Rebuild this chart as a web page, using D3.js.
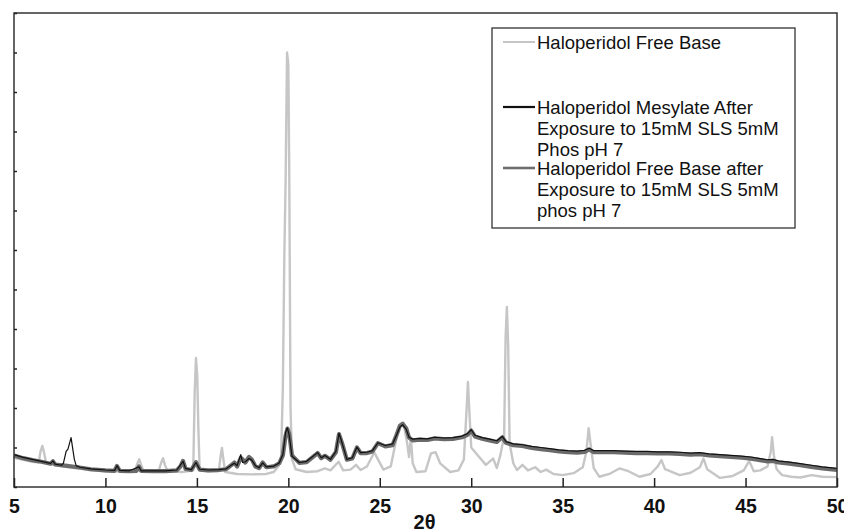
<!DOCTYPE html>
<html>
<head>
<meta charset="utf-8">
<script src="https://cdn.jsdelivr.net/npm/d3@7/dist/d3.min.js"></script>
<style>
  html, body { margin: 0; padding: 0; background: #fff; }
  svg { display: block; font-family: 'Liberation Sans', Arial, sans-serif; }
</style>
</head>
<body>
<svg id="chart" width="844" height="530"></svg>
<script>
// ---- data: [2theta, counts] ----
const freeBase = [
  [5.0, 740], [5.5, 690], [6.0, 640], [6.35, 620], [6.45, 900], [6.55, 1040], [6.65, 860], [6.75, 610],
  [7.2, 560], [7.8, 510], [8.5, 470], [9.2, 420], [10.0, 400], [10.8, 390], [11.6, 400], [11.75, 600],
  [11.85, 700], [11.95, 560], [12.1, 390], [12.9, 390], [13.05, 620], [13.15, 730], [13.25, 560], [13.4, 400],
  [14.2, 380], [14.8, 420], [14.88, 2400], [14.95, 3270], [15.02, 2800], [15.08, 1500], [15.15, 450],
  [15.6, 400], [16.2, 400], [16.3, 800], [16.37, 990], [16.45, 700], [16.55, 380], [17.2, 330], [18.0, 320],
  [18.8, 330], [19.2, 380], [19.45, 520], [19.6, 700], [19.7, 2500], [19.78, 5800], [19.85, 7700],
  [19.93, 11000], [20.0, 10700], [20.05, 8000], [20.12, 2000], [20.2, 700], [20.4, 450], [21.0, 380],
  [21.6, 400], [22.0, 470], [22.3, 420], [22.75, 640], [23.0, 420], [23.4, 440], [23.7, 560], [23.95, 430],
  [24.3, 520], [24.7, 880], [24.9, 700], [25.2, 440], [25.6, 520], [25.9, 1200], [26.1, 1550], [26.3, 1620],
  [26.5, 1100], [26.6, 760], [26.7, 1250], [26.8, 600], [27.0, 380], [27.5, 400], [27.8, 850], [28.05, 880],
  [28.3, 600], [28.85, 380], [29.3, 420], [29.6, 700], [29.75, 2000], [29.82, 2660], [29.9, 1900],
  [30.0, 1000], [30.4, 780], [30.8, 560], [31.2, 720], [31.4, 480], [31.6, 820], [31.8, 1300], [31.88, 3800],
  [31.95, 4560], [32.02, 3600], [32.1, 1100], [32.3, 600], [32.5, 430], [32.8, 560], [33.1, 420], [33.5, 500],
  [33.8, 380], [34.1, 440], [34.5, 330], [35.0, 300], [35.6, 350], [36.1, 500], [36.3, 900], [36.42, 1490],
  [36.55, 1000], [36.7, 480], [37.0, 260], [37.6, 340], [38.1, 470], [38.6, 400], [39.2, 260], [39.8, 330],
  [40.2, 520], [40.4, 680], [40.6, 450], [41.4, 300], [42.0, 360], [42.5, 500], [42.7, 720], [42.9, 450],
  [43.6, 230], [44.3, 280], [44.9, 420], [45.2, 660], [45.45, 400], [45.8, 420], [46.2, 520], [46.38, 900],
  [46.45, 1260], [46.55, 800], [46.7, 450], [47.0, 300], [47.5, 260], [48.0, 240], [48.6, 300], [49.2, 260],
  [50.0, 250]
];

const mesylateExposed = [
  [5.0, 820], [5.5, 750], [6.0, 700], [6.5, 650], [7.0, 600], [7.13, 660], [7.25, 580], [7.6, 550],
  [7.7, 600], [7.85, 900], [7.95, 960], [8.12, 1250], [8.3, 700], [8.4, 540], [8.6, 500], [9.2, 460],
  [10.0, 430], [10.5, 420], [10.63, 540], [10.78, 420], [11.3, 410], [11.83, 510], [11.95, 410], [12.6, 410],
  [13.3, 410], [13.9, 430], [14.24, 650], [14.38, 470], [14.7, 440], [14.95, 620], [15.15, 450], [15.6, 430],
  [16.2, 440], [16.6, 460], [16.9, 560], [17.05, 600], [17.2, 540], [17.4, 820], [17.5, 620], [17.65, 640],
  [17.85, 720], [18.0, 680], [18.2, 540], [18.4, 490], [18.6, 610], [18.8, 510], [19.2, 530], [19.5, 610],
  [19.7, 820], [19.85, 1380], [19.95, 1500], [20.05, 1300], [20.2, 780], [20.6, 620], [21.0, 650],
  [21.6, 870], [21.8, 740], [22.0, 800], [22.3, 700], [22.6, 900], [22.77, 1360], [22.95, 1100], [23.2, 700],
  [23.5, 740], [23.75, 1010], [23.95, 870], [24.3, 880], [24.6, 920], [24.9, 1120], [25.3, 1050],
  [25.7, 1090], [25.9, 1300], [26.1, 1520], [26.25, 1580], [26.45, 1460], [26.6, 1260], [26.8, 1210],
  [27.2, 1230], [27.6, 1220], [28.0, 1260], [28.5, 1240], [29.0, 1250], [29.5, 1290], [29.8, 1350],
  [30.0, 1450], [30.2, 1310], [30.6, 1250], [31.0, 1210], [31.4, 1170], [31.7, 1280], [31.9, 1150],
  [32.3, 1090], [32.8, 1070], [33.3, 1030], [33.8, 1000], [34.3, 970], [34.8, 940], [35.3, 920], [35.8, 910],
  [36.2, 930], [36.45, 980], [36.7, 920], [37.2, 920], [37.8, 920], [38.4, 910], [39.0, 900], [39.6, 900],
  [40.2, 890], [40.8, 890], [41.4, 880], [42.0, 860], [42.5, 870], [43.0, 840], [43.6, 820], [44.2, 800],
  [44.8, 780], [45.3, 760], [45.8, 720], [46.2, 690], [46.5, 700], [46.8, 660], [47.4, 630], [48.0, 590],
  [48.6, 550], [49.2, 510], [50.0, 470]
];

const freeBaseExposed = [
  [5.0, 800], [5.5, 730], [6.0, 680], [6.5, 640], [7.0, 590], [7.13, 650], [7.25, 570], [7.8, 540],
  [8.5, 500], [9.2, 450], [10.0, 420], [10.5, 410], [10.63, 530], [10.78, 410], [11.3, 400], [11.7, 410],
  [11.83, 520], [11.95, 410], [12.6, 400], [13.3, 400], [13.9, 420], [14.1, 520], [14.24, 660], [14.38, 460],
  [14.7, 430], [14.95, 630], [15.15, 440], [15.6, 420], [16.2, 430], [16.6, 450], [16.9, 560], [17.05, 620],
  [17.2, 520], [17.4, 740], [17.5, 700], [17.65, 620], [17.85, 760], [18.0, 700], [18.2, 520], [18.4, 480],
  [18.6, 620], [18.8, 500], [19.2, 520], [19.5, 600], [19.7, 800], [19.85, 1300], [19.95, 1480],
  [20.05, 1350], [20.2, 800], [20.6, 610], [21.0, 630], [21.6, 860], [21.8, 730], [22.0, 790], [22.3, 690],
  [22.6, 880], [22.77, 1340], [22.95, 1090], [23.2, 690], [23.5, 720], [23.75, 1000], [23.95, 860],
  [24.3, 860], [24.6, 900], [24.9, 1110], [25.3, 1030], [25.7, 1060], [25.9, 1300], [26.1, 1550],
  [26.25, 1600], [26.45, 1480], [26.6, 1250], [26.8, 1180], [27.2, 1200], [27.6, 1190], [28.0, 1230],
  [28.5, 1210], [29.0, 1220], [29.5, 1260], [29.8, 1320], [30.0, 1430], [30.2, 1280], [30.6, 1220],
  [31.0, 1180], [31.4, 1140], [31.7, 1260], [31.9, 1120], [32.3, 1060], [32.8, 1040], [33.3, 990],
  [33.8, 960], [34.3, 930], [34.8, 900], [35.3, 880], [35.8, 870], [36.2, 890], [36.45, 950], [36.7, 880],
  [37.2, 880], [37.8, 880], [38.4, 870], [39.0, 860], [39.6, 860], [40.2, 850], [40.8, 850], [41.4, 840],
  [42.0, 820], [42.5, 830], [43.0, 800], [43.6, 780], [44.2, 760], [44.8, 740], [45.3, 720], [45.8, 680],
  [46.2, 650], [46.5, 660], [46.8, 620], [47.4, 590], [48.0, 550], [48.6, 510], [49.2, 470], [50.0, 430]
];

const xTicks = [5, 10, 15, 20, 25, 30, 35, 40, 45, 50];
const yTicks = d3.range(0, 12001, 1000);

const legendItems = [
  { lines: ['Haloperidol Free Base'], color: '#c6c6c6', width: 2 },
  { lines: ['Haloperidol Mesylate After', 'Exposure to 15mM SLS 5mM', 'Phos pH 7'], color: '#111', width: 2.2 },
  { lines: ['Haloperidol Free Base after', 'Exposure to 15mM SLS 5mM', 'phos pH 7'], color: '#6e6e6e', width: 2.6 }
];

// ---- layout ----
const L = 14, R = 837, T = 13, B = 487;
const svg = d3.select('#chart');

const x = d3.scaleLinear().domain([5, 50]).range([L, R]);
const y = d3.scaleLinear().domain([0, 12000]).range([B, T]);

const line = d3.line().x(d => x(d[0])).y(d => y(d[1]));

// traces
svg.append('path').datum(freeBase)
  .attr('fill', 'none').attr('stroke', '#c6c6c6').attr('stroke-width', 2.4)
  .attr('stroke-linejoin', 'round').attr('d', line);
svg.append('path').datum(freeBaseExposed)
  .attr('fill', 'none').attr('stroke', '#6a6a6a').attr('stroke-width', 4.2)
  .attr('stroke-linejoin', 'round').attr('d', line);
svg.append('path').datum(mesylateExposed)
  .attr('fill', 'none').attr('stroke', '#111').attr('stroke-width', 1.2)
  .attr('stroke-linejoin', 'round').attr('d', line);

// frame
svg.append('rect')
  .attr('x', L).attr('y', T).attr('width', R - L).attr('height', B - T)
  .attr('fill', 'none').attr('stroke', '#333').attr('stroke-width', 1.5);

// x axis (ticks pointing inward)
const xAxis = svg.append('g')
  .attr('transform', `translate(0,${B})`)
  .call(d3.axisBottom(x).tickValues(xTicks).tickSizeInner(-9).tickSizeOuter(0).tickPadding(12));
xAxis.select('.domain').remove();
xAxis.selectAll('line').attr('stroke', '#222').attr('stroke-width', 1.5);
xAxis.selectAll('text')
  .attr('fill', '#111').attr('font-size', '19.5px').attr('font-weight', 'bold')
  .attr('font-family', "'Liberation Sans', Arial, sans-serif");

// y axis: unlabeled inward ticks
const yAxis = svg.append('g')
  .attr('transform', `translate(${L},0)`)
  .call(d3.axisRight(y).tickValues(yTicks).tickSizeInner(3).tickSizeOuter(0).tickFormat(''));
yAxis.select('.domain').remove();
yAxis.selectAll('line').attr('stroke', '#222').attr('stroke-width', 1.5);

// axis title
svg.append('text')
  .attr('x', (L + R) / 2 - 1).attr('y', 529)
  .attr('text-anchor', 'middle')
  .attr('font-size', '20px').attr('font-weight', 'bold').attr('fill', '#111')
  .text('2θ');

// legend
const lg = svg.append('g');
lg.append('rect')
  .attr('x', 492).attr('y', 28).attr('width', 303).attr('height', 200)
  .attr('fill', '#fff').attr('stroke', '#333').attr('stroke-width', 1.3);

const rowTop = [42, 107, 168];
legendItems.forEach((item, i) => {
  const cy = rowTop[i];
  lg.append('line')
    .attr('x1', 503).attr('x2', 535).attr('y1', cy).attr('y2', cy)
    .attr('stroke', item.color).attr('stroke-width', item.width);
  const t = lg.append('text')
    .attr('x', 537).attr('y', cy + 6.5)
    .attr('font-size', '18.5px').attr('fill', '#111');
  item.lines.forEach((s, j) => {
    t.append('tspan').attr('x', 537).attr('dy', j === 0 ? 0 : 21).text(s);
  });
});
</script>
</body>
</html>
